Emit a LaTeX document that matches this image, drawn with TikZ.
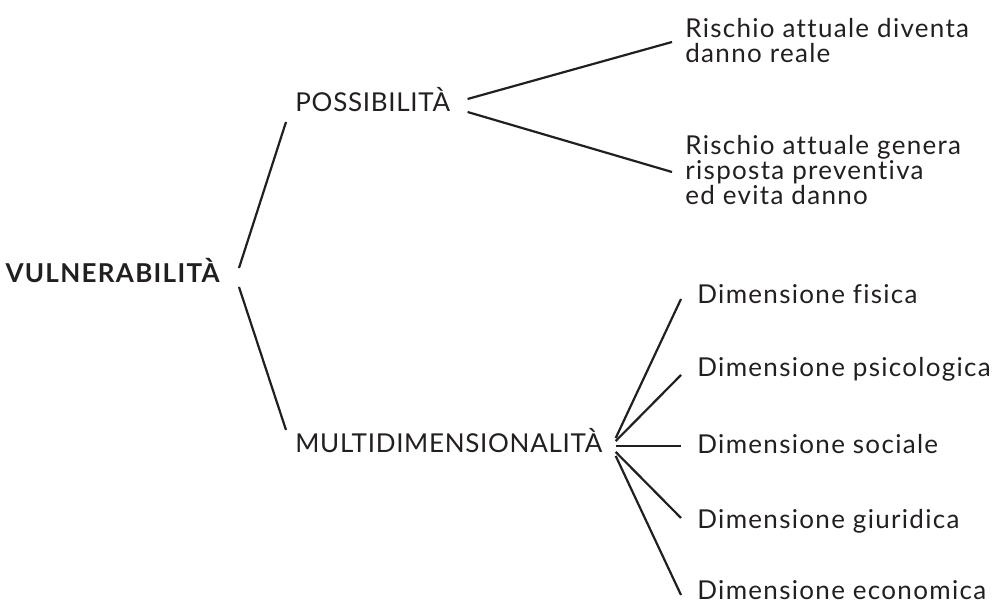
\documentclass[tikz,border=0pt]{standalone}
\usepackage{fontspec}
\setmainfont{Lato}[LetterSpace=5, Ligatures=NoCommon]
\newfontfamily\capsfont{Lato}[LetterSpace=2.7]
\definecolor{ink}{HTML}{231F20}

\begin{document}
\begin{tikzpicture}[x=0.5pt,y=-0.5pt,
	txt/.style={font=\fontsize{13}{12.5}\selectfont, text=ink, inner ysep=0pt, align=left},
	twig/.style={draw=ink, line width=1.1pt}]
	\useasboundingbox (0,0) rectangle (992,603);
	% root and the two branches
	\node[txt, inner xsep=9.5pt] (vul) at (239,283) [anchor = base east] {\bfseries VULNERABILITÀ};
	\node[txt, inner xsep=4.5pt] (pos) at (286,112) [anchor = base west] {\capsfont POSSIBILITÀ};
	\node[txt, inner xsep=4.5pt] (mul) at (286,453) [anchor = base west] {\capsfont MULTIDIMENSIONALITÀ};
	\draw[twig] ([yshift=7.5pt]vul.base east) -- ([yshift=-5pt]pos.base west);
	\draw[twig] ([yshift=-2pt]vul.base east) -- ([yshift=11.5pt]mul.base west);
	% outcomes of the risk
	\node[txt, inner xsep=6.5pt] (real) at (672,41) [anchor = west] {Rischio attuale diventa\\danno reale};
	\node[txt, inner xsep=6.5pt] (prev) at (672,170) [anchor = west] {Rischio attuale genera\\risposta preventiva\\ed evita danno};
	\draw[twig] ([xshift=4pt,yshift=6.5pt]pos.base east) -- ([yshift=-0.5pt]real.west);
	\draw[twig] ([xshift=4pt]pos.base east) -- ([yshift=-1pt]prev.west);
	% the five dimensions
	\node[txt, inner xsep=8pt] (fis) at (681,304) [anchor = base west] {Dimensione fisica};
	\node[txt, inner xsep=8pt] (psi) at (681,377) [anchor = base west] {Dimensione psicologica};
	\node[txt, inner xsep=8pt] (soc) at (681,454) [anchor = base west] {Dimensione sociale};
	\node[txt, inner xsep=8pt] (giu) at (681,529) [anchor = base west] {Dimensione giuridica};
	\node[txt, inner xsep=8pt] (eco) at (681,600) [anchor = base west] {Dimensione economica};
	\foreach \n/\a/\b in {fis/7.5/2.5, psi/6/1, soc/3.5/4, giu/0.5/5.5, eco/-1.5/2.5}
		\draw[twig] ([xshift=2pt,yshift=\a pt]mul.base east) -- ([yshift=\b pt]\n.base west);
\end{tikzpicture}
\end{document}
